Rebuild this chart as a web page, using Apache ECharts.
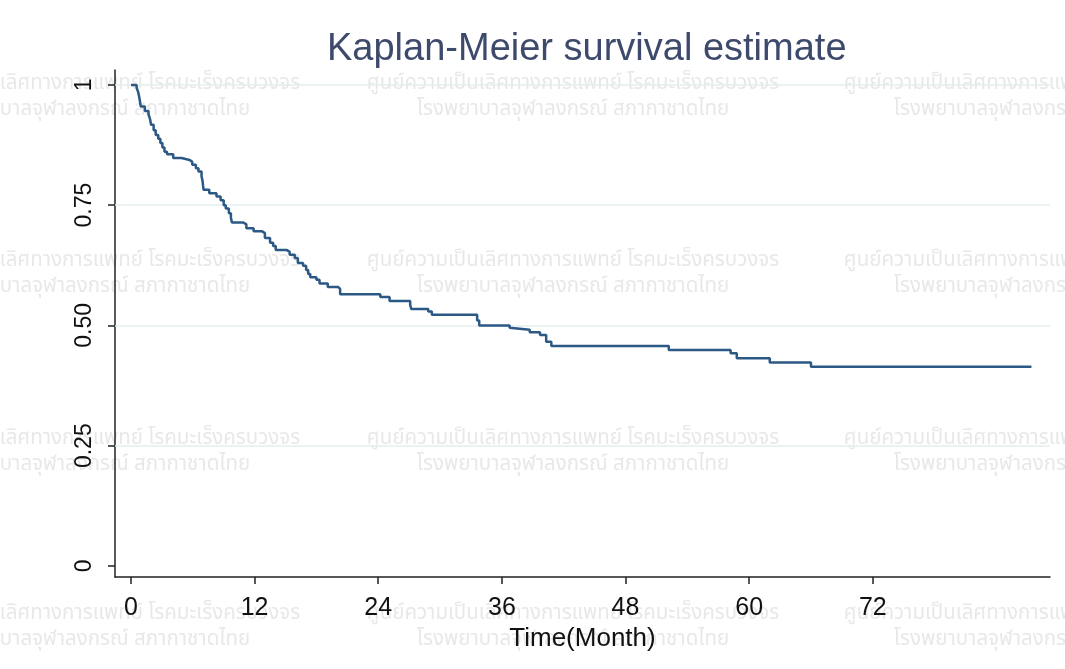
<!DOCTYPE html>
<html>
<head>
<meta charset="utf-8">
<script src="https://cdn.jsdelivr.net/npm/echarts@6/dist/echarts.min.js"></script>
<style>
html,body{margin:0;padding:0;background:#fff;}
#chart{width:1065px;height:669px;}
</style>
</head>
<body>
<div id="chart"></div>
<script>
// ---- data ----
const titleText = 'Kaplan-Meier survival estimate';
const xAxisTitle = 'Time(Month)';
const xTicks = [0, 12, 24, 36, 48, 60, 72];
const yTicks = [0, 0.25, 0.5, 0.75, 1];
const yTickLabels = ['0', '0.25', '0.50', '0.75', '1'];
const months = [0, 0.55, 0.7, 0.8, 0.88, 0.95, 1.35, 1.7, 1.85, 1.95, 2.2, 2.4, 2.65, 2.85, 3.05, 3.25, 3.5, 4.1, 4.9, 5.7, 5.95, 6.3, 6.55, 6.85, 6.95, 7.0, 7.05, 7.6, 8.3, 8.7, 9.0, 9.2, 9.5, 9.7, 9.8, 10.9, 11.2, 11.9, 12.7, 13.0, 13.5, 13.8, 14.05, 15.1, 15.4, 15.9, 16.2, 16.7, 17.0, 17.2, 17.4, 18.0, 18.3, 19.1, 20.1, 20.3, 24.2, 25.1, 27.1, 27.2, 28.85, 29.2, 33.6, 33.8, 36.75, 36.9, 38.7, 39.7, 40.3, 40.8, 52.2, 58.2, 58.8, 62.0, 66.0, 87.4];
const survival = [1.0, 0.994, 0.985, 0.975, 0.965, 0.955, 0.946, 0.939, 0.929, 0.917, 0.906, 0.896, 0.888, 0.879, 0.870, 0.861, 0.856, 0.848, 0.844, 0.840, 0.834, 0.827, 0.820, 0.810, 0.800, 0.790, 0.782, 0.775, 0.768, 0.760, 0.750, 0.743, 0.733, 0.724, 0.714, 0.710, 0.702, 0.696, 0.692, 0.682, 0.672, 0.665, 0.657, 0.653, 0.647, 0.640, 0.630, 0.624, 0.615, 0.607, 0.600, 0.595, 0.587, 0.580, 0.576, 0.565, 0.559, 0.551, 0.543, 0.534, 0.529, 0.522, 0.510, 0.500, 0.495, 0.491, 0.486, 0.480, 0.466, 0.457, 0.449, 0.442, 0.432, 0.423, 0.414, 0.414];
const watermarkLines = ['ศูนย์ความเป็นเลิศทางการแพทย์ โรคมะเร็งครบวงจร', 'โรงพยาบาลจุฬาลงกรณ์ สภากาชาดไทย'];

// ---- build chart ----
const kmData = months.map((m, i) => [m, survival[i]]);

const wmCols = [94, 573, 1050];
const wmRows = [85, 262, 440, 615];
const graphics = [];
wmRows.forEach(ry => {
  wmCols.forEach(cx => {
    watermarkLines.forEach((t, li) => {
      graphics.push({
        type: 'text', x: cx, y: ry + li * 26, z: -10, silent: true,
        style: {
          text: t, fill: '#e8e8e8', textAlign: 'center', textVerticalAlign: 'middle',
          font: '20.5px "Noto Sans Thai", "Noto Sans", "DejaVu Sans", sans-serif'
        }
      });
    });
  });
});

const chart = echarts.init(document.getElementById('chart'));
chart.setOption({
  animation: false,
  backgroundColor: '#ffffff',
  title: {
    text: titleText, left: 322, top: 26,
    textStyle: { fontFamily: 'Liberation Sans', fontSize: 38, fontWeight: 'normal', color: '#3e4a6c' }
  },
  graphic: graphics,
  grid: { left: 115, right: 15, top: 70, bottom: 92 },
  xAxis: {
    type: 'value', min: -1.55, max: 89.2,
    name: xAxisTitle, nameLocation: 'middle', nameGap: 42,
    nameTextStyle: { fontFamily: 'Liberation Sans', fontSize: 26, color: '#111' },
    axisLine: { show: true, onZero: false, lineStyle: { color: '#222', width: 1.5 } },
    axisTick: { show: true, customValues: xTicks, length: 7, lineStyle: { color: '#222', width: 1.5 } },
    axisLabel: { customValues: xTicks, margin: 19, fontFamily: 'Liberation Sans', fontSize: 25, color: '#111' },
    splitLine: { show: false }
  },
  yAxis: {
    type: 'value', min: -0.023, max: 1.031,
    axisLine: { show: true, onZero: false, lineStyle: { color: '#222', width: 1.5 } },
    axisTick: { show: true, customValues: yTicks, length: 7, lineStyle: { color: '#222', width: 1.5 } },
    axisLabel: {
      customValues: yTicks, rotate: 90, margin: 19,
      fontFamily: 'Liberation Sans', fontSize: 23, color: '#111',
      formatter: v => yTickLabels[yTicks.indexOf(v)] ?? String(v)
    },
    splitLine: { show: false }
  },
  series: [{
    type: 'line', data: kmData, step: 'end', showSymbol: false, z: 5,
    lineStyle: { color: '#2b5884', width: 2.5 },
    markLine: {
      silent: true, symbol: ['none', 'none'], label: { show: false },
      lineStyle: { color: '#e4eef1', width: 1.5, type: 'solid' },
      emphasis: { disabled: true },
      data: yTicks.slice(1).map(v => ({ yAxis: v }))
    }
  }]
});
</script>
</body>
</html>
